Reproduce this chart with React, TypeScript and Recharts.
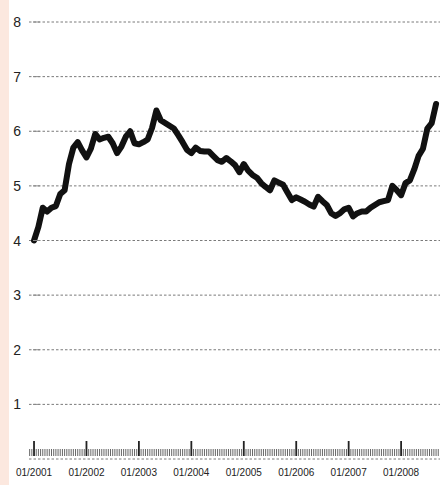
import React from 'react';
import { LineChart, Line, XAxis, YAxis, CartesianGrid } from 'recharts';

// monthly values, 01/2001 .. 09/2008
const startYear = 2001;
const rates = [
  4.0, 4.25, 4.6, 4.53, 4.6, 4.63, 4.85, 4.92, 5.4, 5.7, 5.8, 5.65,
  5.52, 5.68, 5.95, 5.85, 5.88, 5.9, 5.78, 5.6, 5.72, 5.9, 6.0, 5.78,
  5.76, 5.8, 5.85, 6.06, 6.38, 6.2, 6.15, 6.1, 6.05, 5.93, 5.8, 5.66,
  5.6, 5.7, 5.64, 5.63, 5.63, 5.55, 5.47, 5.44, 5.51, 5.45, 5.38, 5.25,
  5.4, 5.28, 5.2, 5.15, 5.05, 4.98, 4.92, 5.1, 5.06, 5.02, 4.88, 4.74,
  4.79, 4.75, 4.71, 4.66, 4.62, 4.8, 4.72, 4.65, 4.5, 4.45, 4.5, 4.57,
  4.6, 4.44, 4.5, 4.53, 4.53, 4.6, 4.65, 4.7, 4.72, 4.74, 5.0, 4.92,
  4.83, 5.05, 5.1, 5.3, 5.55, 5.68, 6.05, 6.15, 6.5,
];
const yTicks = [1, 2, 3, 4, 5, 6, 7, 8];
// half-month tick marks along the bottom
const monthTicks = Array.from({ length: 188 }, (_, i) => i / 2 - 1);

const data = rates.map((v, m) => ({ m, v }));

const font = '"Liberation Sans", Arial, sans-serif';

const MonthTick = (props: any) => {
  const { x, y, payload } = props;
  const m = payload.value;
  const isJan = ((m % 12) + 12) % 12 === 0;
  return (
    <g>
      <line
        x1={x}
        x2={x}
        y1={y - 3}
        y2={isJan ? y - 18 : y - 10}
        stroke={isJan ? '#222' : '#555'}
        strokeWidth={isJan ? 1.8 : 0.9}
      />
      {isJan && (
        <text x={x} y={y + 17} textAnchor="middle" fontSize={10} fill="#222" fontFamily={font}>
          {'01/' + (startYear + m / 12)}
        </text>
      )}
    </g>
  );
};

const ValueTick = (props: any) => {
  const { x, y, payload } = props;
  return (
    <g>
      <text x={x - 3} y={y + 5} textAnchor="end" fontSize={14} fill="#222" fontFamily={font}>
        {payload.value}
      </text>
      <line x1={x + 9} x2={x + 16} y1={y} y2={y} stroke="#888" strokeWidth={1} />
    </g>
  );
};

export default function App() {
  return (
    <div style={{ position: 'absolute', left: 0, top: 0, width: 440, height: 485, background: '#fff' }}>
      <div style={{ position: 'absolute', left: 0, top: 0, width: 9, height: 485, background: '#fce8df' }} />
      <LineChart width={440} height={485} data={data} margin={{ top: 22, right: 0, left: 0, bottom: 0 }}>
        <CartesianGrid vertical={false} stroke="#7a7a7a" strokeDasharray="2.5 2" />
        <XAxis
          dataKey="m"
          type="number"
          domain={[-1.15, 92.9]}
          allowDataOverflow
          ticks={monthTicks}
          interval={0}
          height={26}
          axisLine={false}
          tickLine={false}
          tickSize={0}
          tickMargin={0}
          tick={<MonthTick />}
        />
        <YAxis
          domain={[0, 8]}
          ticks={yTicks}
          width={29}
          axisLine={false}
          tickLine={false}
          tickSize={0}
          tickMargin={5}
          tick={<ValueTick />}
        />
        <Line
          type="linear"
          dataKey="v"
          stroke="#111"
          strokeWidth={6}
          strokeLinejoin="round"
          strokeLinecap="round"
          dot={false}
          isAnimationActive={false}
        />
      </LineChart>
    </div>
  );
}
